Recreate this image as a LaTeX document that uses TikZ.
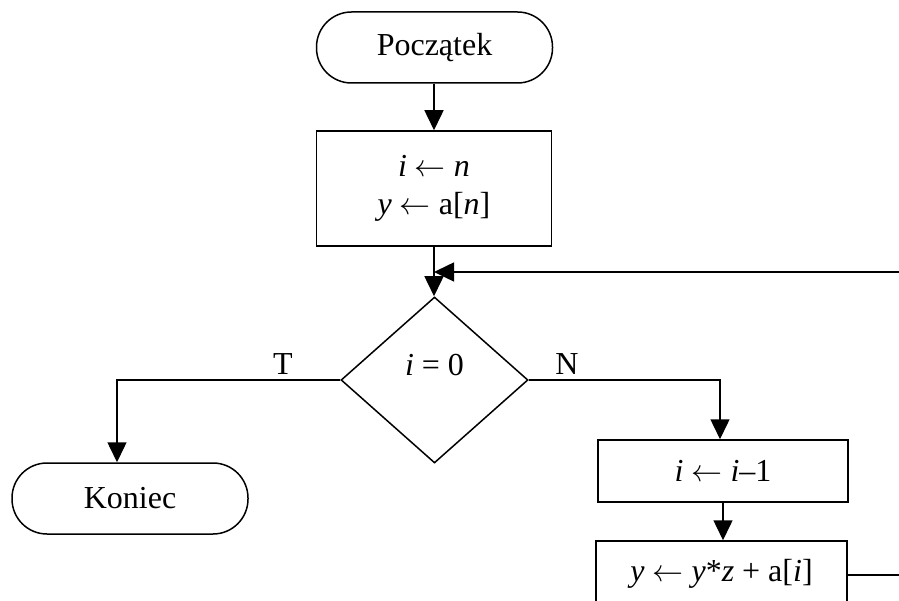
\documentclass[tikz,border=0pt]{standalone}
\usepackage{graphicx}
\usepackage{fontspec}
\setmainfont{Liberation Serif}
\usetikzlibrary{arrows.meta,shapes.geometric}
\newcommand\myarr{\scalebox{3.1}{\fontsize{10}{12}\selectfont$\leftarrow$}}
\begin{document}
\begin{tikzpicture}[x=1pt,y=-1pt, line width=1.5pt,
  every node/.style={font=\fontsize{32}{38}\selectfont, inner sep=0pt},
  term/.style={draw, rectangle, rounded corners=35pt, minimum width=236pt, minimum height=71pt},
  proc/.style={draw, rectangle},
  dec/.style={draw, diamond, minimum width=187pt, minimum height=166pt},
  flow/.style={-{Triangle[length=20pt,width=19pt]}}
]
\useasboundingbox (0,0) rectangle (899,601);
\clip (0,0) rectangle (899,601);

\node[term] (start) at (434.5,47.5) {Początek};
\node[proc, minimum width=235pt, minimum height=115pt, align=center] (init) at (434,188.5)
  {\textit{i} \myarr{} \textit{n}\\\textit{y} \myarr{} a[\textit{n}]};
\node[dec] (dec) at (434.5,380) {};
\node (dectext) at ([yshift=15pt]dec.center) {\textit{i} = 0};
\node[term] (end) at (130,498.5) {Koniec};
\node[proc, minimum width=250pt, minimum height=62pt] (dec1) at (723,471) {\textit{i} \myarr{} \textit{i}–1};
\node[proc, minimum width=251pt, minimum height=66pt] (upd) at (721.5,574) {\textit{y} \myarr{} \textit{y}*\textit{z} + a[\textit{i}]};

\node (tlab) at (283,364) {T};
\node (nlab) at (567,364) {N};

\coordinate (rin) at (899,272);
\coordinate (merge) at (434,272);
\coordinate (tcorner) at (117,380);
\coordinate (ncorner) at (720,380);
\coordinate (rout) at (899,575);

\draw[flow] (start.south -| init.north) -- (init.north);
\draw[flow] (init.south) -- (init.south |- dec.north);
\draw[flow] (rin) -- (merge);
\draw[flow] (dec.west) -- (tcorner) -- (tcorner |- end.north);
\draw[flow] (dec.east) -- (ncorner) -- (ncorner |- dec1.north);
\draw[flow] (dec1.south) -- (dec1.south |- upd.north);
\draw (upd.east |- rout) -- (rout);
\end{tikzpicture}
\end{document}
